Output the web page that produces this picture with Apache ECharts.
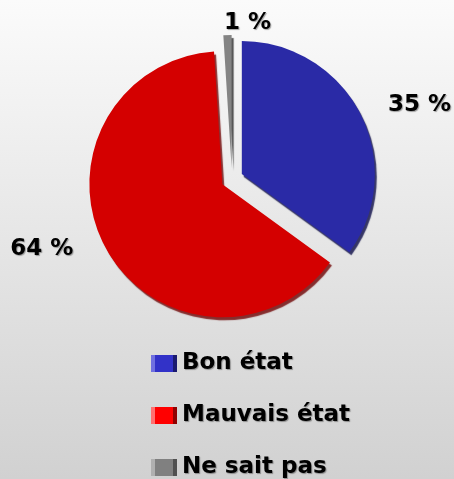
<!DOCTYPE html>
<html>
<head>
<meta charset="utf-8">
<script src="https://cdn.jsdelivr.net/npm/echarts@6/dist/echarts.min.js"></script>
<style>
    html, body { margin: 0; padding: 0; }
    #etat { width: 454px; height: 479px; }
</style>
</head>
<body>
<div id="etat"></div>
<script>
    // etat des lieux, en %
    var categories = ['Bon état', 'Mauvais état', 'Ne sait pas']
    var values = [35, 64, 1]

    var sliceColors = ['#2a2aa6', '#d40000', '#848484']
    var shadowColors = ['rgba(10,10,70,0.8)', 'rgba(110,0,0,0.8)', 'rgba(40,40,40,0.8)']
    var legendColors = [
        ['#7070e0', '#3232c8', '#1a1a70'],
        ['#ff7070', '#ff0000', '#900000'],
        ['#b0b0b0', '#808080', '#505050']
    ]

    function iconGradient(c) {
        return new echarts.graphic.LinearGradient(0, 0, 1, 0, [
            { offset: 0, color: c[0] }, { offset: 0.14, color: c[0] },
            { offset: 0.14, color: c[1] }, { offset: 0.86, color: c[1] },
            { offset: 0.86, color: c[2] }, { offset: 1, color: c[2] }
        ])
    }

    var chart = echarts.init(document.getElementById('etat'))

    var textShadow = {
        textShadowColor: 'rgba(0,0,0,0.35)',
        textShadowOffsetX: 1,
        textShadowOffsetY: 1,
        textShadowBlur: 1
    }

    // petits decalages des etiquettes (dx, dy) pour coller a l'original
    var labelNudge = [[0, -3], [-5, -5], [14, 0]]

    var option = {
        animation: false,
        backgroundColor: new echarts.graphic.LinearGradient(0, 0, 0, 1, [
            { offset: 0, color: '#fbfbfb' },
            { offset: 1, color: '#d1d1d1' }
        ]),
        legend: {
            orient: 'vertical',
            left: 151,
            top: 352,
            height: 200,
            padding: 0,
            itemWidth: 26,
            itemHeight: 17,
            itemGap: 29,
            selectedMode: false,
            textStyle: Object.assign({
                fontFamily: 'DejaVu Sans',
                fontWeight: 'bold',
                fontSize: 23,
                color: '#000'
            }, textShadow),
            data: categories.map(function (name, i) {
                return { name: name, icon: 'rect', itemStyle: { color: iconGradient(legendColors[i]) } }
            })
        },
        series: [{
            type: 'pie',
            center: [232, 179],
            radius: 133,
            startAngle: 90,
            clockwise: true,
            selectedMode: 'multiple',
            selectedOffset: 11,
            label: Object.assign({
                show: true,
                position: 'outside',
                formatter: '{c} %',
                overflow: 'none',
                fontFamily: 'DejaVu Sans',
                fontWeight: 'bold',
                fontSize: 23,
                color: '#000'
            }, textShadow),
            labelLine: { show: false, length: 12, length2: 12 },
            labelLayout: function (params) {
                var n = labelNudge[params.dataIndex]
                var out = { dx: n[0], dy: n[1] }
                if (params.dataIndex === 2) out.align = 'left'
                return out
            },
            emphasis: { disabled: true },
            data: categories.map(function (name, i) {
                return {
                    name: name,
                    value: values[i],
                    selected: true,
                    itemStyle: {
                        color: sliceColors[i],
                        shadowColor: shadowColors[i],
                        shadowOffsetX: 2,
                        shadowOffsetY: 3,
                        shadowBlur: 1
                    }
                }
            })
        }]
    }

    chart.setOption(option)
</script>
</body>
</html>
